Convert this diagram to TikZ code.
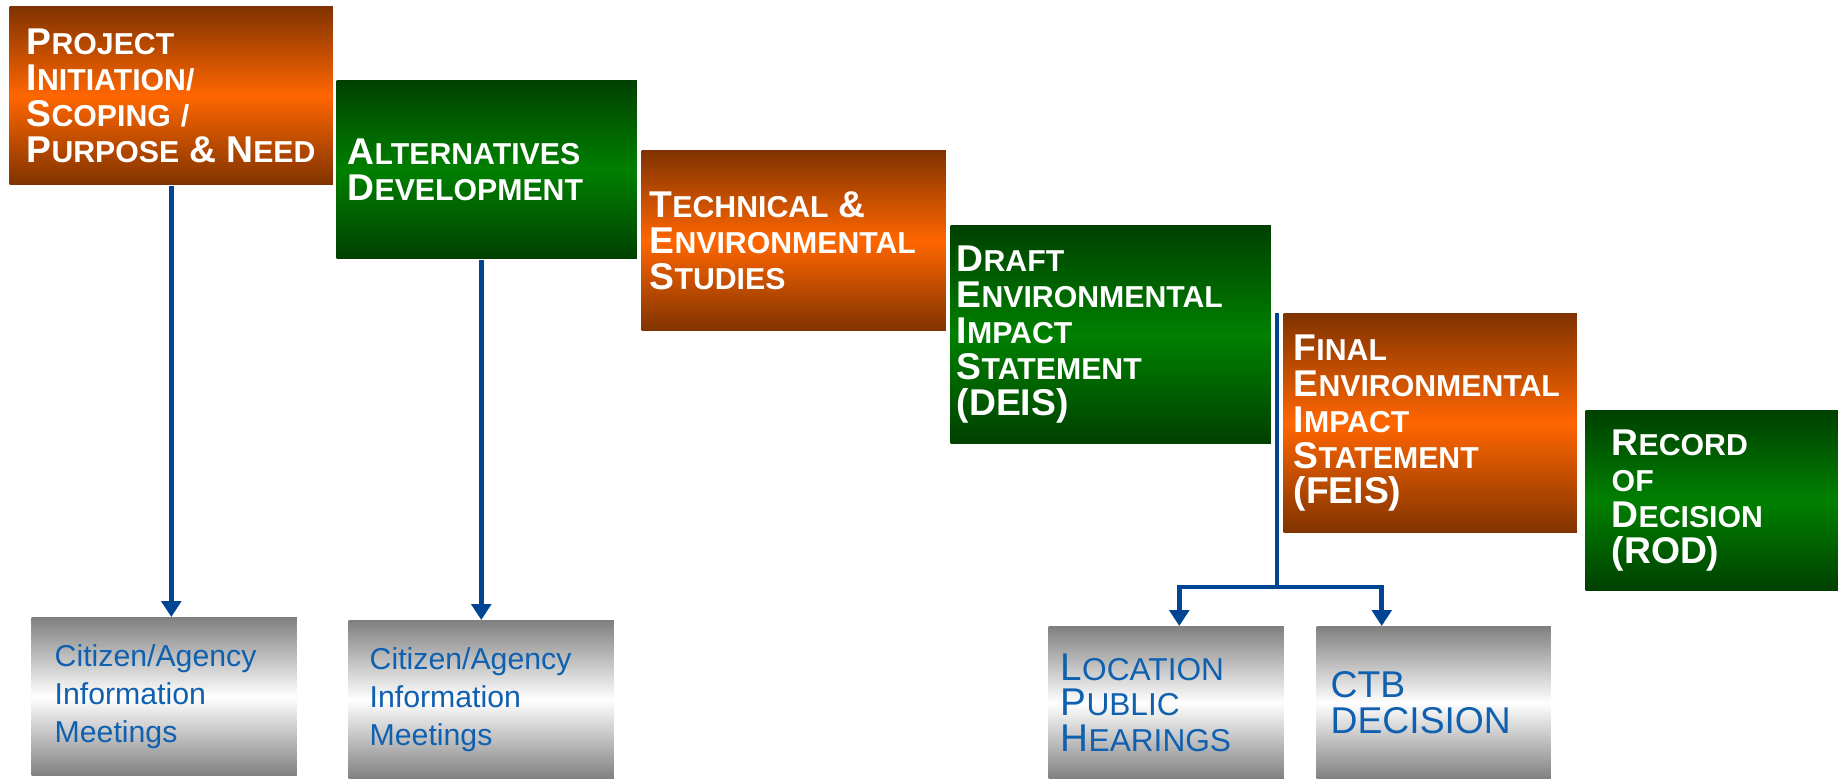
\documentclass[tikz,border=0pt]{standalone}
\usepackage{fontspec}
\setmainfont{Liberation Sans}
\usetikzlibrary{positioning, arrows.meta}
\definecolor{rust}{RGB}{128,51,0}
\definecolor{flame}{RGB}{255,102,0}
\definecolor{pine}{RGB}{0,64,0}
\definecolor{leaf}{RGB}{0,128,0}
\definecolor{steel}{RGB}{128,128,128}
\definecolor{linkblue}{RGB}{0,68,148}
\definecolor{textblue}{RGB}{16,96,176}
\newcommand\Ini[1]{{\fontsize{10.6}{10.2}\selectfont #1}}
\newcommand\Inj[1]{{\fontsize{11}{10.1}\selectfont #1}}
\tikzset{
  phase/.style={anchor=north west, inner ysep=0pt, align=left, text=white,
    font=\fontsize{8.6}{10.2}\selectfont\bfseries},
  hot/.style={phase, top color=rust, bottom color=rust, middle color=flame},
  cool/.style={phase, top color=pine, bottom color=pine, middle color=leaf},
  meet/.style={anchor=north west, inner ysep=0pt, align=left, text=textblue,
    font=\fontsize{8.6}{10.8}\selectfont,
    top color=steel, bottom color=steel, middle color=white},
  link/.style={draw=linkblue, line width=1.4pt},
  flow/.style={link, -{Triangle[width=5.5pt,length=4.5pt]}}
}

\begin{document}
\begin{tikzpicture}[x=0.01cm, y=-0.01cm]
\useasboundingbox (0,0) rectangle (1841,778);
% phases
\node[hot, inner xsep=0.17cm, text width=2.89cm, minimum height=1.78cm] (proj) at (9,6)
  {\Ini{P}ROJECT\\ \Ini{I}NITIATION/\\ \Ini{S}COPING /\\ \Ini{P}URPOSE \Ini{\&} \Ini{N}EED};
\node[cool, inner xsep=0.11cm, text width=2.78cm, minimum height=1.78cm] (alt) at (336,80)
  {\Ini{A}LTERNATIVES\\ \Ini{D}EVELOPMENT};
\node[hot, inner xsep=0.08cm, text width=2.88cm, minimum height=1.80cm] (tech) at (641,150)
  {\Ini{T}ECHNICAL \Ini{\&}\\ \Ini{E}NVIRONMENTAL\\ \Ini{S}TUDIES};
\node[cool, inner xsep=0.06cm, text width=3.08cm, minimum height=2.18cm] (deis) at (950,225)
  {\Ini{D}RAFT\\ \Ini{E}NVIRONMENTAL\\ \Ini{I}MPACT\\ \Ini{S}TATEMENT\\ \Ini{(DEIS)}};
\node[hot, inner xsep=0.10cm, text width=2.73cm, minimum height=2.19cm] (feis) at (1283,313)
  {\Ini{F}INAL\\ \Ini{E}NVIRONMENTAL\\ \Ini{I}MPACT\\ \Ini{S}TATEMENT\\ \Ini{(FEIS)}};
\node[cool, inner xsep=0.26cm, text width=2.00cm, minimum height=1.80cm] (rod) at (1585,410)
  {\Ini{R}ECORD\\ OF\\ \Ini{D}ECISION\\ \Ini{(ROD)}};
% outreach
\node[meet, inner xsep=0.23cm, text width=2.19cm, minimum height=1.58cm] (cit1) at (31,617)
  {Citizen/Agency\\ Information\\ Meetings};
\node[meet, inner xsep=0.21cm, text width=2.23cm, minimum height=1.58cm] (cit2) at (348,620)
  {Citizen/Agency\\ Information\\ Meetings};
\node[meet, inner xsep=0.12cm, text width=2.11cm, minimum height=1.52cm,
  font=\fontsize{9}{10.1}\selectfont] (loc) at (1048,626)
  {\Inj{L}OCATION\\ \Inj{P}UBLIC\\ \Inj{H}EARINGS};
\node[meet, inner xsep=0.14cm, text width=2.06cm, minimum height=1.52cm,
  font=\fontsize{10.6}{10.4}\selectfont] (ctb) at (1316,626)
  {CTB\\ DECISION};
% connectors
\draw[flow] (proj.south) -- (proj.south |- cit1.north);
\draw[flow] (cit2.north |- alt.south) -- (cit2.north);
\coordinate (fork) at (1277,587);
\draw[link] (fork |- feis.north) -- (fork);
\draw[flow] (fork) -| ([xshift=0.13cm]loc.north);
\draw[flow] (fork) -| ([xshift=-0.52cm]ctb.north);
\end{tikzpicture}
\end{document}
